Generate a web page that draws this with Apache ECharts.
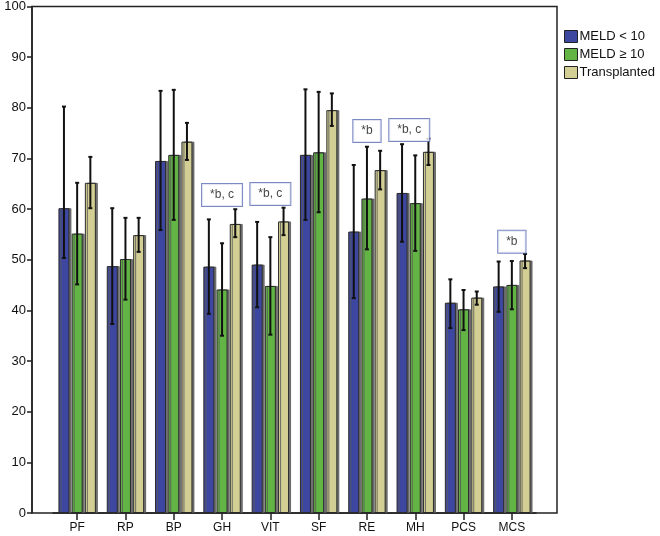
<!DOCTYPE html>
<html>
<head>
<meta charset="utf-8">
<script src="https://cdn.jsdelivr.net/npm/echarts@6/dist/echarts.min.js"></script>
<style>
html,body{margin:0;padding:0;background:#fff;}
#main{width:660px;height:536px;}
</style>
</head>
<body>
<div id="main"></div>
<script>
var categories = ['PF','RP','BP','GH','VIT','SF','RE','MH','PCS','MCS'];
var yTicks = [0,10,20,30,40,50,60,70,80,90,100];

var meldLt10   = [60.0, 48.6, 69.3, 48.5, 48.9, 70.5, 55.4, 63.0, 41.4, 44.6];
var meldLt10Lo = [50.2, 37.2, 55.7, 39.2, 40.5, 57.7, 42.3, 53.4, 36.4, 39.6];
var meldLt10Hi = [80.0, 60.0, 83.1, 57.8, 57.3, 83.4, 68.5, 72.6, 46.0, 49.5];

var meldGe10   = [55.0, 50.0, 70.5, 44.0, 44.7, 71.0, 61.9, 61.0, 40.1, 44.9];
var meldGe10Lo = [45.0, 42.0, 57.7, 34.9, 35.1, 59.2, 51.9, 51.6, 36.0, 40.1];
var meldGe10Hi = [65.0, 58.1, 83.3, 53.1, 54.3, 82.9, 72.1, 70.4, 43.9, 49.6];

var transplanted   = [65.0, 54.7, 73.1, 56.9, 57.4, 79.3, 67.5, 71.1, 42.4, 49.7];
var transplantedLo = [60.0, 51.4, 69.5, 54.3, 54.7, 76.2, 63.7, 68.5, 41.0, 48.2];
var transplantedHi = [70.1, 58.1, 76.8, 59.8, 60.1, 82.6, 71.3, 73.7, 43.6, 51.0];

var annotCats  = ['GH', 'VIT', 'RE', 'MH', 'MCS'];
var annotTexts = ['*b, c', '*b, c', '*b', '*b, c', '*b'];
var annotY     = [62.6, 62.8, 75.2, 75.4, 53.4];

var seriesNames = ['MELD < 10', 'MELD \u2265 10', 'Transplanted'];
var colors = ['#3d479f', '#62b444', '#d3cf94'];
var barW = 11, gapPx = 2.2;
var offsets = [-(barW + gapPx), 0, (barW + gapPx)];

var FONT = 'Liberation Sans, Arial, sans-serif';

function errSeries(idx, lo, hi) {
  var data = categories.map(function (c, i) { return [i, lo[i], hi[i]]; });
  return {
    type: 'custom',
    xAxisIndex: 1, yAxisIndex: 1,
    z: 5,
    silent: true,
    data: data,
    renderItem: function (params, api) {
      var pLo = api.coord([api.value(0), api.value(1)]);
      var pHi = api.coord([api.value(0), api.value(2)]);
      var x = pLo[0] + offsets[idx];
      var st = { stroke: '#111', lineWidth: 2 };
      return {
        type: 'group',
        children: [
          { type: 'line', shape: { x1: x, y1: pLo[1], x2: x, y2: pHi[1] }, style: st },
          { type: 'line', shape: { x1: x - 2, y1: pHi[1], x2: x + 2, y2: pHi[1] }, style: st },
          { type: 'line', shape: { x1: x - 2, y1: pLo[1], x2: x + 2, y2: pLo[1] }, style: st }
        ]
      };
    }
  };
}

function barSeries(idx, vals) {
  return {
    name: seriesNames[idx],
    type: 'bar',
    xAxisIndex: 1, yAxisIndex: 1,
    data: vals,
    barWidth: barW,
    barGap: '20%',
    z: 3,
    itemStyle: {
      color: colors[idx],
      borderColor: '#2a2a2a',
      borderWidth: 1,
      shadowColor: 'rgba(90,90,90,0.85)',
      shadowOffsetX: 2,
      shadowBlur: 0
    }
  };
}

var chart = echarts.init(document.getElementById('main'), null, { renderer: 'canvas' });
chart.setOption({
  animation: false,
  backgroundColor: '#fff',
  textStyle: { fontFamily: FONT },
  grid: [
    { left: 32, right: 103, top: 5, bottom: 23, show: true, borderColor: '#222', borderWidth: 1.5, backgroundColor: 'transparent' },
    { left: 53, right: 124, top: 5, bottom: 23 }
  ],
  legend: {
    orient: 'vertical',
    left: 559, top: 25,
    itemWidth: 13, itemHeight: 12, itemGap: 5,
    icon: 'rect',
    data: seriesNames,
    textStyle: { fontSize: 13, color: '#111', fontFamily: FONT, padding: [0, 0, 0, -3] },
    itemStyle: { borderColor: '#222', borderWidth: 1, shadowColor: 'transparent', shadowOffsetX: 0 }
  },
  xAxis: [
    { gridIndex: 0, type: 'value', show: false, min: 0, max: 1 },
    {
      gridIndex: 1, type: 'category', data: categories,
      axisLine: { show: true, lineStyle: { color: '#222', width: 1.5 } },
      axisTick: { show: true, alignWithLabel: true, interval: 0, length: 7, lineStyle: { color: '#222', width: 1.5 } },
      axisLabel: { interval: 0, fontSize: 12, color: '#111', margin: 9, fontFamily: FONT },
      splitLine: { show: false }
    }
  ],
  yAxis: [
    {
      gridIndex: 0, type: 'value', min: 0, max: 100, interval: 10,
      axisLine: { show: true, lineStyle: { color: '#222', width: 1.5 } },
      axisTick: { show: true, length: 5, lineStyle: { color: '#222', width: 1.5 } },
      axisLabel: { fontSize: 13, color: '#111', margin: 6, fontFamily: FONT,
        formatter: function (v) { return yTicks.indexOf(v) >= 0 ? String(v) : ''; } },
      splitLine: { show: false }
    },
    { gridIndex: 1, type: 'value', min: 0, max: 100, show: false }
  ],
  series: [
    barSeries(0, meldLt10),
    barSeries(1, meldGe10),
    barSeries(2, transplanted),
    errSeries(0, meldLt10Lo, meldLt10Hi),
    errSeries(1, meldGe10Lo, meldGe10Hi),
    errSeries(2, transplantedLo, transplantedHi),
    {
      type: 'scatter',
      xAxisIndex: 1, yAxisIndex: 1,
      symbolSize: 0,
      silent: true,
      z: 6,
      data: annotCats.map(function (c, i) {
        var item = { value: [c, annotY[i]] };
        if (c === 'MH') { item.label = { offset: [-6, 0] }; }
        return item;
      }),
      label: {
        show: true,
        position: 'inside',
        formatter: function (p) { return annotTexts[p.dataIndex]; },
        fontSize: 12,
        color: '#111',
        fontFamily: FONT,
        backgroundColor: '#fff',
        borderColor: '#5a6cb4',
        borderWidth: 1,
        padding: [5, 8]
      }
    }
  ]
});
</script>
</body>
</html>
